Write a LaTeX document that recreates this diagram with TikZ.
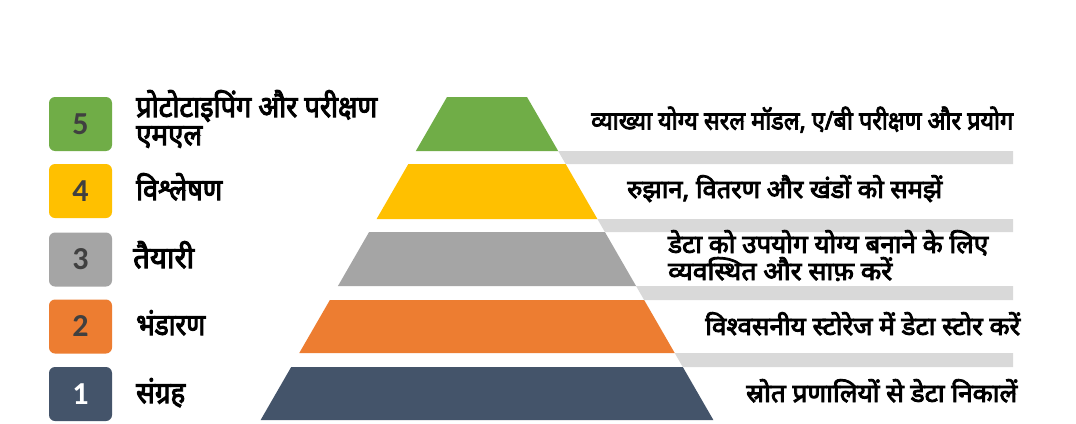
\documentclass[tikz,border=0pt]{standalone}
\usepackage{fontspec}
\usepackage{graphicx}
\newfontfamily\dev[Script=Devanagari,FakeBold=3.5]{Noto Sans}
\newfontfamily\numfont{Carlito}
\definecolor{cfive}{HTML}{70AD47}
\definecolor{cfour}{HTML}{FFC000}
\definecolor{cthree}{HTML}{A5A5A5}
\definecolor{ctwo}{HTML}{ED7D31}
\definecolor{cone}{HTML}{44546A}
\definecolor{ledge}{HTML}{D9D9D9}
\definecolor{numtext}{HTML}{404040}
\tikzset{
  numbox/.style={minimum width=63pt, minimum height=54pt, rounded corners=6pt, inner sep=0pt,
    font=\numfont\bfseries\fontsize{32}{32}\selectfont, text=numtext},
  leftlabel/.style={anchor=base west, inner sep=0pt,
    font=\dev\fontsize{30}{30}\selectfont, text=black},
  rightlabel/.style={anchor=base west, inner sep=0pt,
    font=\dev\fontsize{25.5}{25.5}\selectfont, text=black},
}
\newcommand{\fitw}[2]{\resizebox{#1pt}{\height}{#2}}
\newcommand{\hw}[1]{(40+0.577*(#1-97))}
\begin{document}
\begin{tikzpicture}[x=1pt,y=-1pt]
\useasboundingbox[fill=white] (0,0) rectangle (1076,423);
% pyramid levels
\foreach \yt/\yb/\col in {97/151/cfive,164/219/cfour,232/286/cthree,300/353/ctwo,367/420/cone}{
  \fill[\col] ({487-\hw{\yt}},\yt) -- ({487+\hw{\yt}},\yt) -- ({487+\hw{\yb}},\yb) -- ({487-\hw{\yb}},\yb) -- cycle;
}
% ledges
\foreach \yb/\yn in {151/164,219/232,286/300,353/367}{
  \fill[ledge] ({487+\hw{\yb}},\yb) -- (1013,\yb) -- (1013,\yn) -- ({487+\hw{\yn}},\yn) -- cycle;
}
% number boxes
\node[numbox, fill=cfive] (b5) at (80.5,124) {5};
\node[numbox, fill=cfour] (b4) at (80.5,191) {4};
\node[numbox, fill=cthree] (b3) at (80.5,259.5) {3};
\node[numbox, fill=ctwo] (b2) at (80.5,326.5) {2};
\node[numbox, fill=cone, text=white] (b1) at (80.5,394) {1};
% left labels
\node[leftlabel] (l5a) at (136,117) {\fitw{241}{प्रोटोटाइपिंग और परीक्षण}};
\node[leftlabel] (l5b) at (136,145) {\fitw{66}{एमएल}};
\node[leftlabel] (l4) at (136,200) {\fitw{86}{विश्लेषण}};
\node[leftlabel] (l3) at (133,268) {\fitw{61}{तैयारी}};
\node[leftlabel] (l2) at (136,335) {\fitw{69}{भंडारण}};
\node[leftlabel] (l1) at (136,403) {\fitw{49}{संग्रह}};
% right labels
\node[rightlabel] (r5) at (591,129.5) {\fitw{422}{व्याख्या योग्य सरल मॉडल, ए/बी परीक्षण और प्रयोग}};
\node[rightlabel] (r4) at (627,198) {\fitw{315}{रुझान, वितरण और खंडों को समझें}};
\node[rightlabel] (r3a) at (668,253) {\fitw{320}{डेटा को उपयोग योग्य बनाने के लिए}};
\node[rightlabel] (r3b) at (668,280) {\fitw{224}{व्यवस्थित और साफ़ करें}};
\node[rightlabel] (r2) at (705,335) {\fitw{315}{विश्वसनीय स्टोरेज में डेटा स्टोर करें}};
\node[rightlabel] (r1) at (746,402) {\fitw{271}{स्रोत प्रणालियों से डेटा निकालें}};
\end{tikzpicture}
\end{document}
